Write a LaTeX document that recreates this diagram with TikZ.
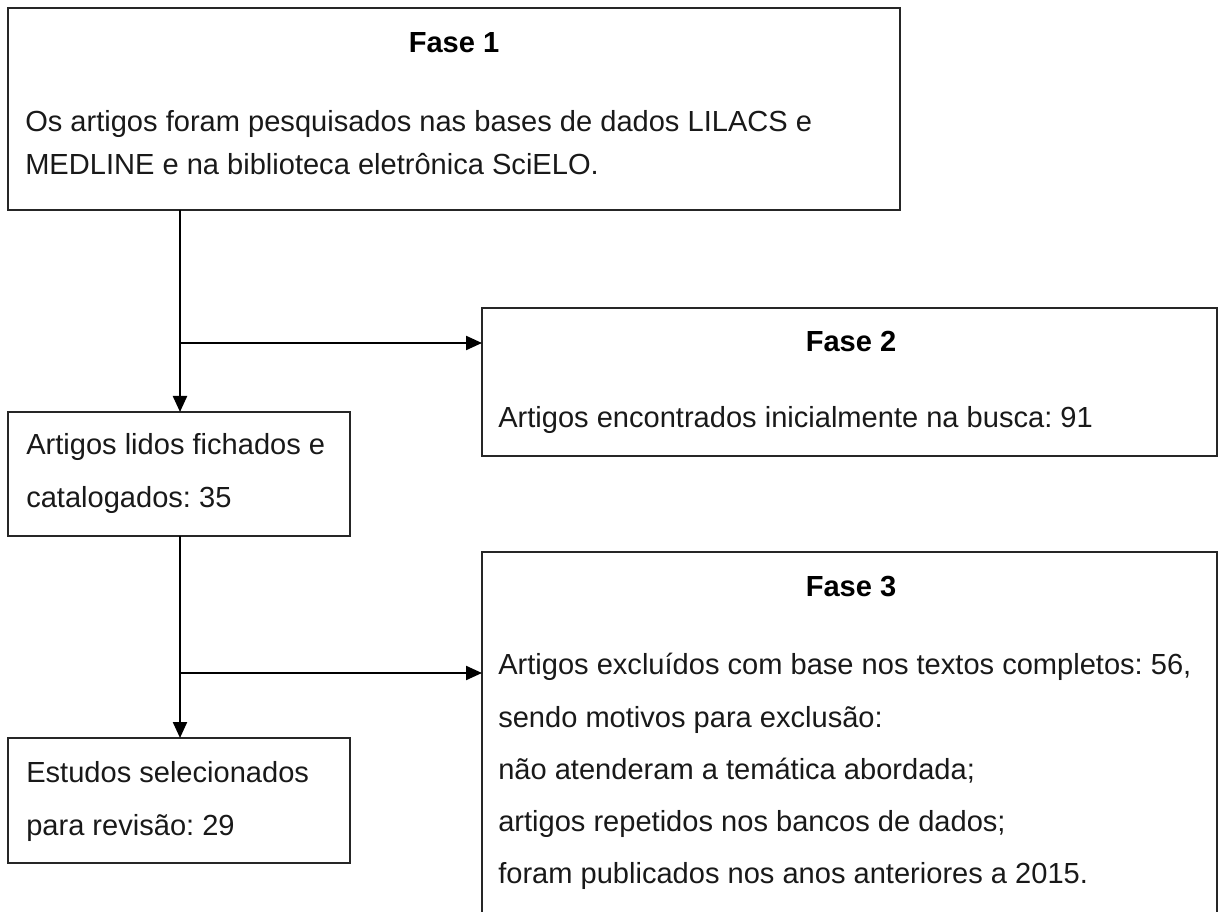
\documentclass[tikz,border=0pt]{standalone}
\usepackage{fontspec}
\setmainfont{Liberation Sans}
\usetikzlibrary{arrows.meta}
\frenchspacing

\tikzset{
  box/.style={draw=black!85, line width=1.1pt, inner sep=0pt, outer sep=0pt},
  txt/.style={anchor=base west, inner sep=0pt, text=black!90, font=\fontsize{21.8}{26}\selectfont},
  title/.style={anchor=base, inner sep=0pt, text=black, font=\fontsize{21.8}{26}\selectfont\bfseries},
  link/.style={line width=1.7pt, -{Triangle[length=12pt,width=10.5pt]}}
}

\begin{document}
\begin{tikzpicture}[x=0.75pt,y=-0.75pt]

\useasboundingbox (0,0) rectangle (1218,912);
\clip (0,0) rectangle (1218,912);

% boxes
\node[box, minimum width=669pt, minimum height=151.5pt] (fase1) at (454,109) {};
\node[box, minimum width=551.25pt, minimum height=111pt] (fase2) at (849.5,382) {};
\node[box, minimum width=256.5pt, minimum height=93pt] (lidos) at (179,474) {};
\node[box, minimum width=551.25pt, minimum height=283.5pt] (fase3) at (849.5,741) {};
\node[box, minimum width=256.5pt, minimum height=93.75pt] (estudos) at (179,800.5) {};

% Fase 1
\node[title] (t1) at (454,53) {Fase 1};
\node[txt] (t1a) at (25,132) {Os artigos foram pesquisados nas bases de dados LILACS e};
\node[txt] (t1b) at (25,175) {MEDLINE e na biblioteca eletrônica SciELO.};

% Fase 2
\node[title] (t2) at (851,352) {Fase 2};
\node[txt] (t2a) at (498,428) {Artigos encontrados inicialmente na busca: 91};

% left column
\node[txt] (l1) at (26,455) {Artigos lidos fichados e};
\node[txt] (l2) at (26,508) {catalogados: 35};
\node[txt] (e1) at (26,782) {Estudos selecionados};
\node[txt] (e2) at (26,835) {para revisão: 29};

% Fase 3
\node[title] (t3) at (851,597) {Fase 3};
\node[txt] (t3a) at (498,675) {Artigos excluídos com base nos textos completos: 56,};
\node[txt] (t3b) at (498,727) {sendo motivos para exclusão:};
\node[txt] (t3c) at (498,779) {não atenderam a temática abordada;};
\node[txt] (t3d) at (498,831) {artigos repetidos nos bancos de dados;};
\node[txt] (t3e) at (498,883) {foram publicados nos anos anteriores a 2015.};

% connectors
\coordinate (split1) at (180,343);
\coordinate (split2) at (180,673);
\draw[link] (fase1.south -| split1) -- (lidos.north -| split1);
\draw[link] (split1) -- (split1 -| fase2.west);
\draw[link] (lidos.south -| split2) -- (estudos.north -| split2);
\draw[link] (split2) -- (split2 -| fase3.west);

\end{tikzpicture}
\end{document}
